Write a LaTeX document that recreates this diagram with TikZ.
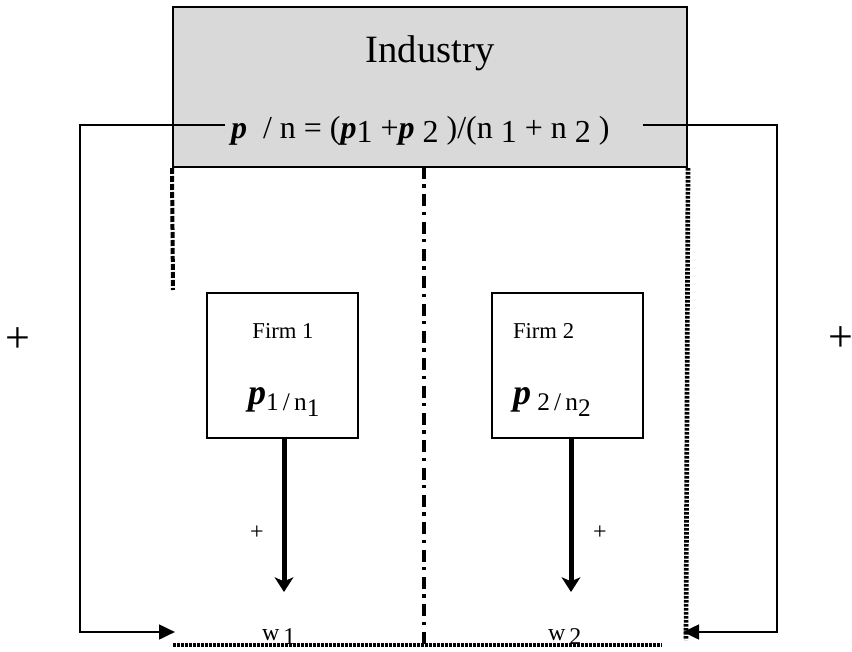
\documentclass[tikz,border=0pt]{standalone}
\usepackage{fontspec}
\setmainfont{Liberation Serif}
\usetikzlibrary{arrows.meta,positioning}
\definecolor{indgray}{RGB}{217,217,217}
\newcommand\bp{\textbf{\textit{p}}}
\newcommand\low[2][3pt]{\raisebox{-#1}{#2}}

\begin{document}
\begin{tikzpicture}[x=0.75pt,y=-0.75pt,line width=1.5pt,>=Stealth,
  box/.style={draw,line width=1.5pt,inner sep=0pt},
  txt/.style={inner sep=0pt,font=\fontsize{17}{20}\selectfont},
  feed/.style={line width=2pt,-{Triangle[length=12pt,width=11pt]}},
  push/.style={line width=3.75pt,-{Stealth[length=11pt,width=14pt,inset=3pt]}}]
\useasboundingbox (0,0) rectangle (852,652);
  % industry box
  \node[box,fill=indgray,minimum width=385.5pt,minimum height=120pt] (industry) at (430,87) {};
  \node[txt,anchor=base,font=\fontsize{29}{32}\selectfont] (indname) at (430,63) {Industry};
  \node[txt,anchor=base west,font=\fontsize{24}{26}\selectfont] (share) at (230,139)
    {\bp\ \ / n = (\bp\low{1} +\bp\ \low{2}\ )/(n\ \low{1} + n\ \low{2}\ )};
  % firm boxes
  \node[box,minimum width=113.25pt,minimum height=108.75pt] (firmA) at (282.5,365.5) {};
  \node[box,minimum width=113.25pt,minimum height=108.75pt] (firmB) at (567,365.5) {};
  \node[txt,anchor=base] (nameA) at (283,338) {Firm 1};
  \node[txt,anchor=base west] (nameB) at (512,338) {Firm 2};
  \node[txt,anchor=base west,font=\fontsize{19}{22}\selectfont] (ratioA) at (247,404)
    {{\fontsize{27}{28}\selectfont\bp}\low[5pt]{1\,/\,n\low[4pt]{1}}};
  \node[txt,anchor=base west,font=\fontsize{19}{22}\selectfont] (ratioB) at (512,404)
    {{\fontsize{27}{28}\selectfont\bp}\ \low[5pt]{2\,/\,n\low[4pt]{2}}};
  % market borders
  \draw[line width=3pt,dash pattern=on 4.5pt off 1.5pt] (industry.south west) -- (173,290);
  \draw[line width=3pt,dash pattern=on 9pt off 4pt on 2.5pt off 5pt] (424,167) -- (424,645);
  \draw[line width=3.5pt,dash pattern=on 2pt off 1pt] (industry.south east) -- (686,640);
  \draw[line width=2.5pt,dash pattern=on 2pt off 1pt] (173,645) -- (662,645);
  % wages
  \node[txt,anchor=base west,font=\fontsize{18}{20}\selectfont] (wA) at (261,640) {w\,\low[3pt]{1}};
  \node[txt,anchor=base west,font=\fontsize{18}{20}\selectfont] (wB) at (547,640) {w\,\low[3pt]{2}};
  \coordinate (tipA) at (284,592);
  \coordinate (tipB) at (571,592);
  \draw[push] (firmA.south -| tipA) -- (tipA);
  \draw[push] (firmB.south -| tipB) -- (tipB);
  \node[txt,font=\fontsize{18}{20}\selectfont] (plusA) at (257,533) {+};
  \node[txt,font=\fontsize{18}{20}\selectfont] (plusB) at (600,533) {+};
  % feedback loops
  \coordinate (outL) at (225,125);
  \coordinate (outR) at (643,125);
  \coordinate (inL) at (175,632);
  \coordinate (inR) at (683,632);
  \draw[feed] (outL) -- (80,125) |- (inL);
  \draw[feed] (outR) -- (777,125) |- (inR);
  \node[txt,font=\fontsize{33}{36}\selectfont] (bigL) at (18,340) {+};
  \node[txt,font=\fontsize{33}{36}\selectfont] (bigR) at (841,339) {+};
\end{tikzpicture}
\end{document}
